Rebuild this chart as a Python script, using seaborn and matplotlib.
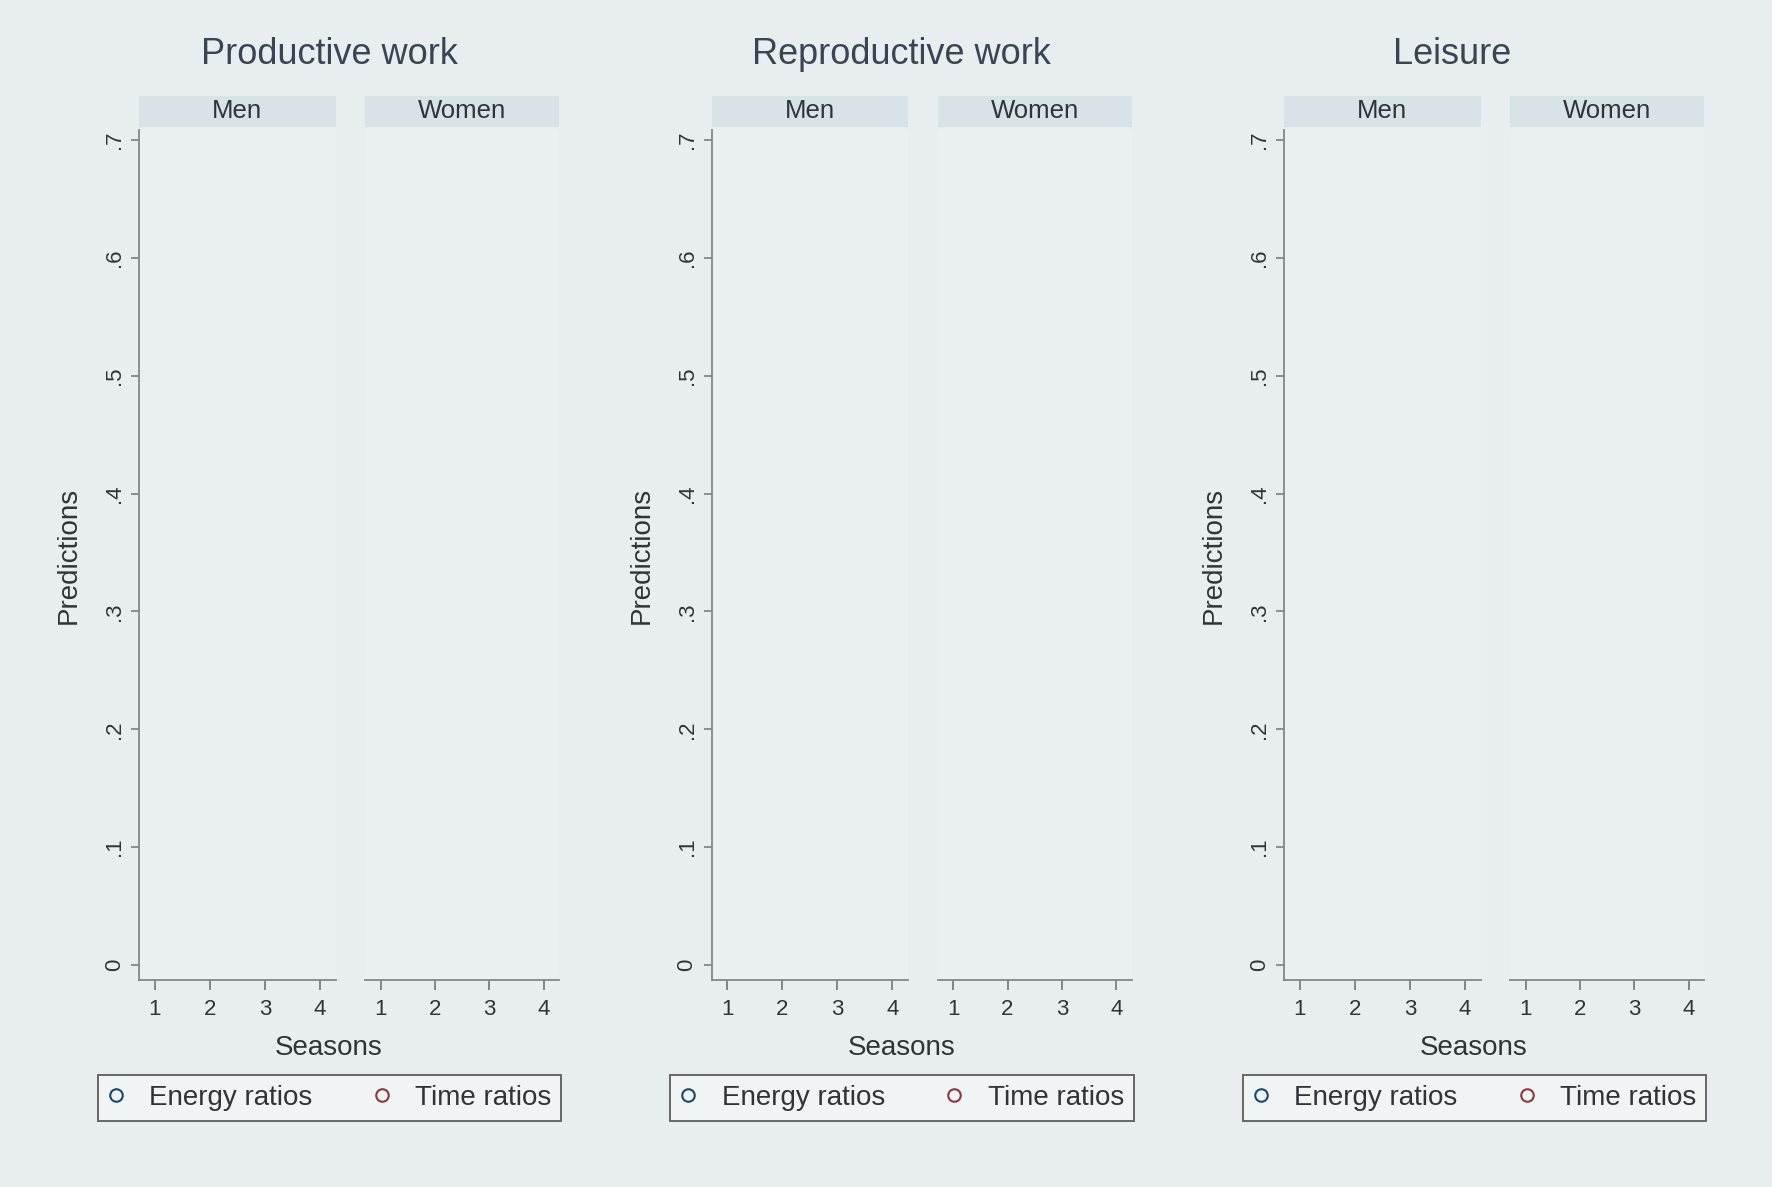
import numpy as np
import pandas as pd
import seaborn as sns
import matplotlib
matplotlib.use("Agg")
import matplotlib.pyplot as plt
from matplotlib.patches import Rectangle
from matplotlib.lines import Line2D

# ---- data (the reference panels contain no plotted points) ----
activities = ["Productive work", "Reproductive work", "Leisure"]
sexes = ["Men", "Women"]
seasons = [1, 2, 3, 4]
measures = ["Energy ratios", "Time ratios"]
y_ticks = [0, 0.1, 0.2, 0.3, 0.4, 0.5, 0.6, 0.7]
y_tick_labels = ["0", ".1", ".2", ".3", ".4", ".5", ".6", ".7"]
pred_activity = []
pred_sex = []
pred_season = []
pred_measure = []
pred_value = []

df = pd.DataFrame({"activity": pred_activity, "sex": pred_sex,
                   "season": pred_season, "measure": pred_measure,
                   "prediction": pred_value})

sns.set_theme(style="white")
plt.rcParams['font.family'] = ['Liberation Sans', 'DejaVu Sans']

BG = "#e8eef0"
PLOT_BG = "#eaf0f2"
STRIP_BG = "#d8e3e8"
TXT = "#3b4452"
LAB = "#2f3438"
AX = "#7f878c"
COLORS = {"Energy ratios": "#1a476f", "Time ratios": "#90353b"}

W, H = 1772, 1187
fig = plt.figure(figsize=(W / 100, H / 100), dpi=100, facecolor=BG)

def fx(px):
    return px / W

def fy(py):
    return 1 - py / H

panel_offset = 572.5
men_l, men_r = 139, 335.6
wom_l, wom_r = 365, 559.4
top, bot = 130, 980
title_shift = [0, 0, -22]

for i, act in enumerate(activities):
    off = i * panel_offset
    for j, sex in enumerate(sexes):
        l, r = (men_l, men_r) if j == 0 else (wom_l, wom_r)
        ax = fig.add_axes([fx(l + off), fy(bot), fx(r - l), fy(top) - fy(bot)])
        ax.set_facecolor(PLOT_BG)
        sub = df[(df.activity == act) & (df.sex == sex)]
        if len(sub):
            sns.scatterplot(data=sub, x="season", y="prediction", hue="measure",
                            palette=COLORS, marker="o", facecolor="none",
                            legend=False, ax=ax)
        ax.set_xlim(0.713, 4.287)
        ax.set_ylim(-0.0127, 0.7085)
        ax.set_xticks(seasons)
        ax.set_xticklabels([str(s) for s in seasons], fontsize=16, color=LAB)
        for s in ["top", "right"]:
            ax.spines[s].set_visible(False)
        ax.spines["bottom"].set_color(AX)
        ax.spines["bottom"].set_linewidth(1.3)
        ax.tick_params(axis="x", direction="out", length=7, width=1.4,
                       color=AX, pad=7, bottom=True)
        if j == 0:
            ax.spines["left"].set_color(AX)
            ax.spines["left"].set_linewidth(1.3)
            ax.set_yticks(y_ticks)
            ax.set_yticklabels(y_tick_labels, fontsize=16, color=LAB,
                               rotation=90, va="center")
            ax.tick_params(axis="y", direction="out", length=6, width=1.3,
                           color=AX, pad=4, left=True)
            ax.set_ylabel("Predictions", fontsize=20, color=LAB, labelpad=16)
        else:
            ax.spines["left"].set_visible(False)
            ax.set_yticks([])
        ax.set_xlabel("")
        # strip header
        ax.add_patch(Rectangle((0, 1 + 3 / 850), 1, 31 / 850, transform=ax.transAxes,
                               facecolor=STRIP_BG, edgecolor="none", clip_on=False))
        ax.text(0.5, 1 + 18.5 / 850, sex, transform=ax.transAxes, ha="center",
                va="center", fontsize=18.5, color=LAB)

    cx = 329 + off
    fig.text(fx(cx + title_shift[i]), fy(54), act, ha="center", va="center",
             fontsize=26, color=TXT)
    fig.text(fx(cx), fy(1048), "Seasons", ha="center", va="center",
             fontsize=20, color=LAB)

    handles = [Line2D([], [], linestyle="none", marker="o", markersize=9,
                      markerfacecolor="none", markeredgecolor=COLORS[m],
                      markeredgewidth=1.5) for m in measures]
    leg = fig.legend(handles, measures, loc="center",
                     bbox_to_anchor=(fx(329.5 + off), fy(1098)), ncol=2,
                     fontsize=20, frameon=True, fancybox=False,
                     handletextpad=0.9, columnspacing=2.2, borderpad=0.35,
                     handlelength=0.6, borderaxespad=0)
    leg.get_frame().set_edgecolor("#444444")
    leg.get_frame().set_linewidth(1.4)
    leg.get_frame().set_facecolor("#f3f6f7")
    for t in leg.get_texts():
        t.set_color(LAB)

fig.savefig("out.png", dpi=100, facecolor=BG)
